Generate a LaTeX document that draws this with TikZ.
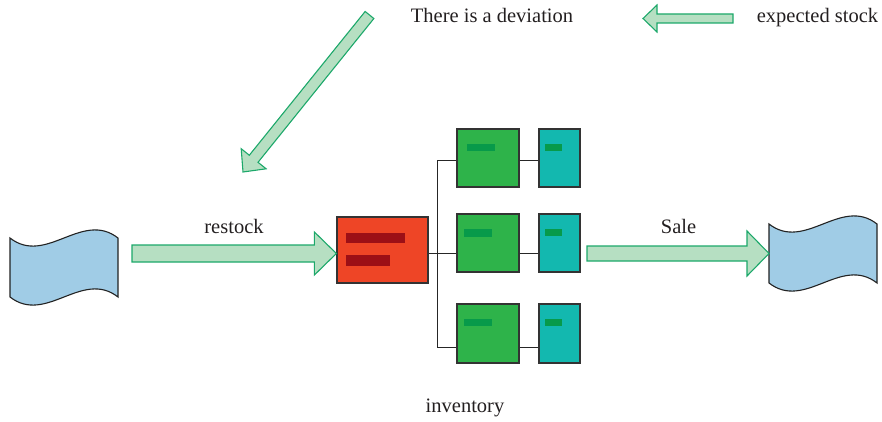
\documentclass[tikz,border=0pt]{standalone}
\usepackage{fontspec}
\setmainfont{Liberation Serif}
\usetikzlibrary{calc}

\definecolor{arrowfill}{HTML}{B6DFC2}
\definecolor{arrowline}{HTML}{1CA86A}
\definecolor{boxline}{HTML}{333333}
\definecolor{storered}{HTML}{EE4526}
\definecolor{storebar}{HTML}{9C0F16}
\definecolor{shelfgreen}{HTML}{2EB34A}
\definecolor{binteal}{HTML}{13B8AF}
\definecolor{tagbar}{HTML}{079A4A}
\definecolor{flagfill}{HTML}{A0CCE6}
\definecolor{flagline}{HTML}{222222}
\definecolor{textcol}{HTML}{231F20}

% tail, tip, shaft half width, head half width, head length
\newcommand{\fatarrow}[5]{%
	\coordinate (fa-base) at ($(#2)!#5pt!(#1)$);
	\draw [blockarrow] ($(#1)!#3pt!90:(#2)$) -- ($(fa-base)!#3pt!90:(#2)$)
		-- ($(fa-base)!#4pt!90:(#2)$) -- (#2) -- ($(fa-base)!#4pt!-90:(#2)$)
		-- ($(fa-base)!#3pt!-90:(#2)$) -- ($(#1)!#3pt!-90:(#2)$) -- cycle;
}

\tikzset{
	blockarrow/.style = {fill=arrowfill, draw=arrowline, line width=1.1pt, line join=miter},
	box/.style = {draw=boxline, line width=1.2pt, inner sep=0pt},
	word/.style = {font=\fontsize{20.5}{24}\selectfont, text=textcol, anchor=base, inner sep=0pt},
	link/.style = {draw=black!85, line width=1pt},
	flag/.pic = {
		\draw [fill=flagfill, draw=flagline, line width=1.1pt]
			(0,59) .. controls (36,31) and (72,87) .. (108,59) -- (108,0)
			.. controls (72,28) and (36,-28) .. (0,0) -- cycle;
		\coordinate (-west) at (0,29.5);
	}
}

\begin{document}
\begin{tikzpicture}[x=1pt, y=1pt]
		\useasboundingbox (0,0) rectangle (882,421);

		% flags
		\pic (leftFlag) at (10,124) {flag};
		\pic (rightFlag) at (769,138) {flag};

		% inventory boxes
		\node [box, fill=storered, minimum width=91pt, minimum height=66pt] (store) at (382.5,171) {};
		\node [box, fill=shelfgreen, minimum width=62pt, minimum height=58pt] (shelfA) at (488,263) {};
		\node [box, fill=shelfgreen, minimum width=62pt, minimum height=58pt] (shelfB) at (488,178) {};
		\node [box, fill=shelfgreen, minimum width=62pt, minimum height=59pt] (shelfC) at (488,87.5) {};
		\node [box, fill=binteal, minimum width=41pt, minimum height=58pt] (binA) at (559.5,263) {};
		\node [box, fill=binteal, minimum width=41pt, minimum height=58pt] (binB) at (559.5,178) {};
		\node [box, fill=binteal, minimum width=41pt, minimum height=59pt] (binC) at (559.5,87.5) {};

		\fill [storebar] ([shift={(10,-17)}]store.north west) rectangle ++(59,-10);
		\fill [storebar] ([shift={(10,-39)}]store.north west) rectangle ++(44,-11);
		\fill [tagbar] ([shift={(11,-16)}]shelfA.north west) rectangle ++(28,-7);
		\fill [tagbar] ([shift={(8,-16)}]shelfB.north west) rectangle ++(28,-8);
		\fill [tagbar] ([shift={(8,-16)}]shelfC.north west) rectangle ++(28,-7);
		\fill [tagbar] ([shift={(7,-16)}]binA.north west) rectangle ++(17,-7);
		\fill [tagbar] ([shift={(7,-16)}]binB.north west) rectangle ++(17,-7);
		\fill [tagbar] ([shift={(7,-16)}]binC.north west) rectangle ++(17,-7);

		% tree lines
		\coordinate (jA) at (437,261);
		\coordinate (jB) at (437,168);
		\coordinate (jC) at (437,74);
		\draw [link] (jA) -- (jC);
		\draw [link] (store.east |- jB) -- (jB);
		\draw [link] (jA) -- (jA -| shelfA.west);
		\draw [link] (jB) -- (jB -| shelfB.west);
		\draw [link] (jC) -- (jC -| shelfC.west);
		\draw [link] (jA -| shelfA.east) -- (jA -| binA.west);
		\draw [link] (jB -| shelfB.east) -- (jB -| binB.west);
		\draw [link] (jC -| shelfC.east) -- (jC -| binC.west);

		% block arrows
		\coordinate (restockTail) at (132,167.5);
		\coordinate (restockTip) at (store.west |- restockTail);
		\fatarrow{restockTail}{restockTip}{8.5}{21.5}{22}
		\coordinate (saleTail) at (587,167.5);
		\fatarrow{saleTail}{rightFlag-west}{7.5}{22.5}{22}
		\coordinate (diagTail) at (369.5,406);
		\coordinate (diagTip) at (243,249);
		\fatarrow{diagTail}{diagTip}{5.6}{16}{17}
		\coordinate (expectTail) at (733,402.5);
		\coordinate (expectTip) at (643,402.5);
		\fatarrow{expectTail}{expectTip}{4.5}{13.5}{14}

		% texts
		\node [word] (deviation) at (492,398) {There is a deviation};
		\node [word] (expected) at (817.5,398) {expected stock};
		\node [word] (restock) at (234,188) {restock};
		\node [word] (sale) at (678.5,188) {Sale};
		\node [word] (inventory) at (465,9) {inventory};
\end{tikzpicture}
\end{document}
